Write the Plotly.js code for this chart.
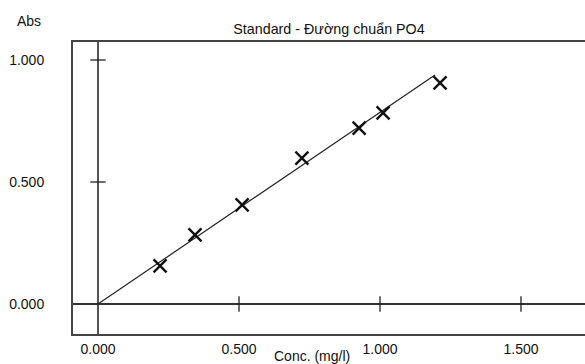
<!DOCTYPE html>
<html>
<head>
<meta charset="utf-8">
<script src="https://cdn.plot.ly/plotly-3.0.1.min.js"></script>
<style>html,body{margin:0;padding:0;background:#fff;}#chart{width:585px;height:364px;}</style>
</head>
<body>
<div id="chart"></div>
<script>
// Standard points (Conc. mg/l, Abs)
const concValues = [0.220, 0.344, 0.511, 0.723, 0.926, 1.011, 1.213];
const absValues  = [0.156, 0.283, 0.406, 0.598, 0.721, 0.783, 0.906];
// Calibration line endpoints
const fitConc = [0.0, 1.195];
const fitAbs  = [0.0, 0.939];
// Axis ticks
const xTickVals = [0, 0.5, 1.0, 1.5];
const xTickText = ['0.000', '0.500', '1.000', '1.500'];
const yTickVals = [0, 0.5, 1.0];
const yTickText = ['0.000', '0.500', '1.000'];
const xMarkTicks = [0.5, 1.0, 1.5];
const yMarkTicks = [0.5, 1.0];

const titleText = 'Standard - Đường chuẩn PO4';
const xTitle = 'Conc. (mg/l)';
const yTitle = 'Abs';

const ink = '#222';
const fontFam = '"Liberation Sans", Arial, sans-serif';

const traces = [
  { x: fitConc, y: fitAbs, mode: 'lines', line: {color: ink, width: 1.2}, hoverinfo: 'skip', showlegend: false },
  { x: concValues, y: absValues, mode: 'markers',
    marker: {symbol: 'x-thin-open', size: 13, color: '#111', line: {color: '#111', width: 2.4}},
    showlegend: false },
  { x: yMarkTicks.map(() => 0), y: yMarkTicks, mode: 'markers',
    marker: {symbol: 'line-ew-open', size: 11, color: ink, line: {color: ink, width: 1.3}},
    hoverinfo: 'skip', showlegend: false },
  { x: xMarkTicks, y: xMarkTicks.map(() => 0), mode: 'markers',
    marker: {symbol: 'line-ns-open', size: 11, color: ink, line: {color: ink, width: 1.3}},
    hoverinfo: 'skip', showlegend: false }
];

const layout = {
  width: 585, height: 364,
  margin: {l: 73, r: 0, t: 42, b: 30, pad: 0},
  paper_bgcolor: '#fff', plot_bgcolor: '#fff',
  font: {family: fontFam, size: 14, color: '#111'},
  showlegend: false,
  title: {text: titleText, font: {family: fontFam, size: 14.3, color: '#111'},
          x: 0.5, xref: 'paper', y: 1, yref: 'container', yanchor: 'top', pad: {t: 24}},
  xaxis: {
    range: [-0.0887, 1.727], tickmode: 'array', tickvals: xTickVals, ticktext: xTickText,
    showgrid: false, ticks: '', showline: true, linecolor: '#444', linewidth: 2, mirror: true,
    zeroline: true, zerolinecolor: '#555', zerolinewidth: 1.5,
    ticklabelstandoff: 1, fixedrange: true
  },
  yaxis: {
    range: [-0.123, 1.0738], tickmode: 'array', tickvals: yTickVals, ticktext: yTickText,
    showgrid: false, ticks: '', showline: true, linecolor: '#444', linewidth: 2, mirror: false,
    zeroline: true, zerolinecolor: '#333', zerolinewidth: 1.5,
    ticklabelstandoff: 24, fixedrange: true
  },
  annotations: [
    {text: yTitle, xref: 'paper', yref: 'paper', x: -0.0855, y: 1.071, xanchor: 'center', yanchor: 'middle',
     showarrow: false, font: {family: fontFam, size: 14, color: '#111'}},
    {text: xTitle, xref: 'paper', yref: 'paper', x: 0.467, y: -0.075, xanchor: 'center', yanchor: 'middle',
     showarrow: false, font: {family: fontFam, size: 14, color: '#111'}}
  ]
};

Plotly.newPlot('chart', traces, layout, {displayModeBar: false, staticPlot: true});
</script>
</body>
</html>
